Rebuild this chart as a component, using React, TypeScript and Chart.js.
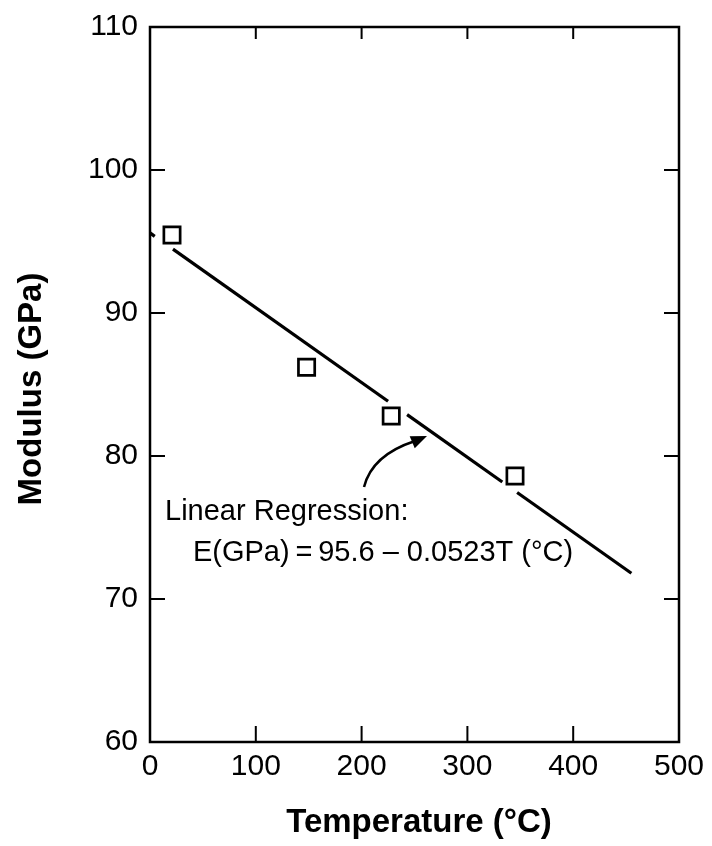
import React, { useEffect, useRef } from "react";
import { Chart, registerables } from "chart.js";

Chart.register(...registerables);

// ---- data ----
const tempC = [20.8, 148, 228, 345];
const modulusGPa = [95.45, 86.2, 82.8, 78.6];

// regression line drawn in broken segments (gaps around markers / arrow)
const fitStartT = [0, 21.7, 243, 347];
const fitEndT = [4.5, 225, 333, 455];
const fitStartE = [95.6, 94.47, 82.89, 77.45];
const fitEndE = [95.36, 83.83, 78.18, 71.8];

const xTicks = [0, 100, 200, 300, 400, 500];
const yTicks = [60, 70, 80, 90, 100, 110];

const xTitle = "Temperature (°C)";
const yTitle = "Modulus (GPa)";
const noteLine1 = "Linear Regression:";
const noteLine2 = "E(GPa)\u2009=\u200995.6 – 0.0523T (°C)";

const FONT = '"Liberation Sans", Arial, Helvetica, sans-serif';

const framePlugin = {
  id: "framePlugin",
  afterDraw(chart: any) {
    const { ctx, chartArea: a } = chart;
    const x = chart.scales.x;
    const y = chart.scales.y;
    ctx.save();
    ctx.strokeStyle = "#000";
    ctx.fillStyle = "#000";
    ctx.lineWidth = 2.5;
    ctx.strokeRect(a.left, a.top, a.right - a.left, a.bottom - a.top);

    // inward tick marks
    ctx.lineWidth = 2;
    ctx.beginPath();
    for (const v of xTicks.slice(1, -1)) {
      const px = x.getPixelForValue(v);
      ctx.moveTo(px, a.bottom);
      ctx.lineTo(px, a.bottom - 16);
      ctx.moveTo(px, a.top);
      ctx.lineTo(px, a.top + 12);
    }
    for (const v of yTicks.slice(1, -1)) {
      const py = y.getPixelForValue(v);
      ctx.moveTo(a.left, py);
      ctx.lineTo(a.left + 15, py);
      ctx.moveTo(a.right, py);
      ctx.lineTo(a.right - 15, py);
    }
    ctx.stroke();

    // axis titles
    ctx.font = `bold 33px ${FONT}`;
    ctx.textAlign = "center";
    ctx.textBaseline = "alphabetic";
    ctx.fillText(xTitle, 419, 832);
    ctx.save();
    ctx.translate(41, 389);
    ctx.rotate(-Math.PI / 2);
    ctx.fillText(yTitle, 0, 0);
    ctx.restore();

    // annotation text
    ctx.font = `29px ${FONT}`;
    ctx.textAlign = "left";
    ctx.fillText(noteLine1, x.getPixelForValue(14.2), y.getPixelForValue(75.5));
    ctx.fillText(noteLine2, x.getPixelForValue(40.6), y.getPixelForValue(72.66));

    // curved arrow
    const tx = x.getPixelForValue(202.3), ty = y.getPixelForValue(77.83);
    const cx = x.getPixelForValue(209.8), cy = y.getPixelForValue(80.07);
    const ex = x.getPixelForValue(250.5), ey = y.getPixelForValue(81.05);
    const hx = x.getPixelForValue(261.8), hy = y.getPixelForValue(81.4);
    ctx.lineWidth = 2.5;
    ctx.beginPath();
    ctx.moveTo(tx, ty);
    ctx.quadraticCurveTo(cx, cy, ex, ey);
    ctx.stroke();
    const ang = Math.atan2(hy - ey, hx - ex);
    const len = 16, half = 6.5;
    const bx = hx - len * Math.cos(ang), by = hy - len * Math.sin(ang);
    ctx.beginPath();
    ctx.moveTo(hx, hy);
    ctx.lineTo(bx + half * Math.sin(ang), by - half * Math.cos(ang));
    ctx.lineTo(bx - half * Math.sin(ang), by + half * Math.cos(ang));
    ctx.closePath();
    ctx.fill();
    ctx.restore();
  },
};

export default function App() {
  const ref = useRef<HTMLCanvasElement | null>(null);

  useEffect(() => {
    if (!ref.current) return;
    const fitSets = fitStartT.map((t, i) => ({
      type: "line" as const,
      data: [
        { x: t, y: fitStartE[i] },
        { x: fitEndT[i], y: fitEndE[i] },
      ],
      borderColor: "#000",
      borderWidth: 3.2,
      pointRadius: 0,
      fill: false,
      tension: 0,
    }));
    const chart = new Chart(ref.current, {
      type: "scatter",
      data: {
        datasets: [
          ...fitSets,
          {
            type: "scatter" as const,
            data: tempC.map((t, i) => ({ x: t, y: modulusGPa[i] })),
            pointStyle: "rect",
            pointRadius: 11.5,
            pointBorderWidth: 2.7,
            pointBackgroundColor: "#fff",
            pointBorderColor: "#000",
            borderColor: "#000",
            backgroundColor: "#fff",
          },
        ] as any,
      },
      options: {
        animation: false,
        responsive: false,
        devicePixelRatio: 1,
        layout: { padding: { top: 27, right: 33, left: 0, bottom: 0 } },
        plugins: {
          legend: { display: false },
          tooltip: { enabled: false },
        },
        scales: {
          x: {
            type: "linear",
            min: 0,
            max: 500,
            grid: { display: false },
            border: { display: false },
            afterBuildTicks: (s: any) => {
              s.ticks = xTicks.map((v) => ({ value: v }));
            },
            afterFit: (s: any) => {
              s.height = 104;
            },
            ticks: {
              color: "#000",
              padding: -1,
              maxRotation: 0,
              autoSkip: false,
              font: { family: FONT, size: 30 },
            },
          },
          y: {
            type: "linear",
            min: 60,
            max: 110,
            grid: { display: false },
            border: { display: false },
            afterBuildTicks: (s: any) => {
              s.ticks = yTicks.map((v) => ({ value: v }));
            },
            afterFit: (s: any) => {
              s.width = 150;
            },
            ticks: {
              color: "#000",
              padding: 4,
              autoSkip: false,
              font: { family: FONT, size: 30 },
            },
          },
        },
      } as any,
      plugins: [framePlugin],
    });
    return () => chart.destroy();
  }, []);

  return (
    <div style={{ position: "absolute", left: 0, top: 0, width: 712, height: 846, background: "#fff" }}>
      <canvas ref={ref} width={712} height={846} style={{ display: "block" }} />
    </div>
  );
}
